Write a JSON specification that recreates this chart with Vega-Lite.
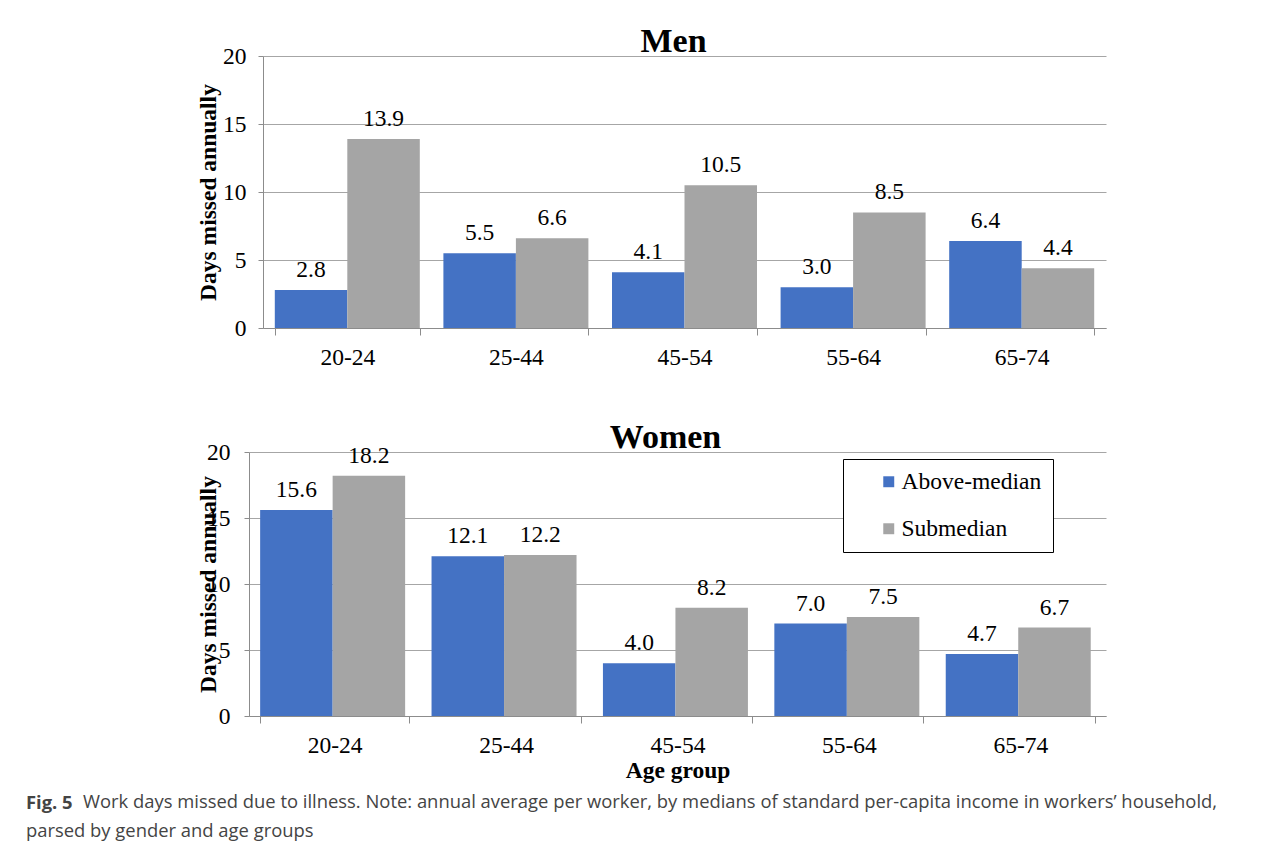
{
  "$schema": "https://vega.github.io/schema/vega-lite/v6.json",
  "background": "white",
  "padding": {"left": 26, "top": 25, "right": 10, "bottom": 10},
  "datasets": {
    "men": [
      {"age": "20-24", "income": "Above-median", "days": 2.8},
      {"age": "20-24", "income": "Submedian", "days": 13.9},
      {"age": "25-44", "income": "Above-median", "days": 5.5},
      {"age": "25-44", "income": "Submedian", "days": 6.6},
      {"age": "45-54", "income": "Above-median", "days": 4.1},
      {"age": "45-54", "income": "Submedian", "days": 10.5},
      {"age": "55-64", "income": "Above-median", "days": 3.0},
      {"age": "55-64", "income": "Submedian", "days": 8.5},
      {"age": "65-74", "income": "Above-median", "days": 6.4},
      {"age": "65-74", "income": "Submedian", "days": 4.4}
    ],
    "women": [
      {"age": "20-24", "income": "Above-median", "days": 15.6},
      {"age": "20-24", "income": "Submedian", "days": 18.2},
      {"age": "25-44", "income": "Above-median", "days": 12.1},
      {"age": "25-44", "income": "Submedian", "days": 12.2},
      {"age": "45-54", "income": "Above-median", "days": 4.0},
      {"age": "45-54", "income": "Submedian", "days": 8.2},
      {"age": "55-64", "income": "Above-median", "days": 7.0},
      {"age": "55-64", "income": "Submedian", "days": 7.5},
      {"age": "65-74", "income": "Above-median", "days": 4.7},
      {"age": "65-74", "income": "Submedian", "days": 6.7}
    ]
  },
  "title": {"text": "parsed by gender and age groups", "orient": "bottom", "anchor": "start", "font": "Open Sans", "fontSize": 18.4, "fontWeight": "normal", "color": "#444444", "offset": 9},
  "vconcat": [
    {
      "title": {"text": "Fig. 5", "orient": "bottom", "anchor": "start", "font": "Open Sans", "fontSize": 18.4, "fontWeight": "bold", "color": "#444444", "offset": -17, "dx": -57},
      "vconcat": [
        {
          "title": {"text": "Work days missed due to illness. Note: annual average per worker, by medians of standard per-capita income in workers’ household,", "orient": "bottom", "anchor": "start", "font": "Open Sans", "fontSize": 18.4, "fontWeight": "normal", "color": "#444444", "offset": 11, "dx": -113},
          "spacing": 52,
          "resolve": {"scale": {"color": "independent"}, "legend": {"color": "independent"}},
          "vconcat": [
            {
              "data": {"name": "men"},
              "width": 857,
              "height": 272,
              "title": {"text": "Men", "font": "Liberation Serif", "fontSize": 34, "fontWeight": "bold", "color": "black", "frame": "group", "baseline": "alphabetic", "offset": -42, "dx": -4},
              "encoding": {
                "x": {"field": "age", "type": "nominal", "sort": null, "title": null,
                  "scale": {"paddingInner": 0.14, "paddingOuter": 0.07, "range": [14, 857]},
                  "axis": {"labelAngle": 0, "tickBand": "extent", "tickSize": 7, "labelPadding": 10, "domain": true, "ticks": true}},
                "y": {"field": "days", "type": "quantitative", "title": "Days missed annually",
                  "scale": {"domain": [0, 20], "nice": false},
                  "axis": {"values": [0, 5, 10, 15, 20], "grid": true, "offset": -14, "tickSize": 5, "labelPadding": 12, "titleAngle": -90, "titleX": -55, "titleY": 136, "titleBaseline": "middle", "titleAlign": "center", "titleFontWeight": "bold"}},
                "xOffset": {"field": "income", "type": "nominal", "sort": ["Above-median", "Submedian"], "scale": {"paddingInner": 0}}
              },
              "layer": [
                {"mark": {"type": "bar"},
                 "encoding": {"color": {"field": "income", "type": "nominal", "scale": {"domain": ["Above-median", "Submedian"], "range": ["#4472C4", "#A5A5A5"]}, "legend": null}}},
                {"mark": {"type": "text", "font": "Liberation Serif", "fontSize": 23.5, "color": "black", "baseline": "alphabetic", "dy": -13},
                 "encoding": {"text": {"field": "days", "type": "quantitative", "format": ".1f"}}}
              ]
            },
            {
              "data": {"name": "women"},
              "width": 857,
              "height": 264,
              "title": {"text": "Women", "font": "Liberation Serif", "fontSize": 34, "fontWeight": "bold", "color": "black", "frame": "group", "baseline": "alphabetic", "offset": -42, "dx": -12},
              "encoding": {
                "x": {"field": "age", "type": "nominal", "sort": null, "title": "Age group",
                  "scale": {"paddingInner": 0.13, "paddingOuter": 0.065},
                  "axis": {"labelAngle": 0, "tickBand": "extent", "tickSize": 7, "labelPadding": 10, "titlePadding": 2, "titleFontWeight": "bold"}},
                "y": {"field": "days", "type": "quantitative", "title": "Days missed annually",
                  "scale": {"domain": [0, 20], "nice": false},
                  "axis": {"values": [0, 5, 10, 15, 20], "grid": true, "tickSize": 5, "labelPadding": 14, "titleAngle": -90, "titleX": -41, "titleY": 132, "titleBaseline": "middle", "titleAlign": "center", "titleFontWeight": "bold"}},
                "xOffset": {"field": "income", "type": "nominal", "sort": ["Above-median", "Submedian"], "scale": {"paddingInner": 0}}
              },
              "layer": [
                {"mark": {"type": "bar"},
                 "encoding": {"color": {"field": "income", "type": "nominal", "title": null,
                   "scale": {"domain": ["Above-median", "Submedian"], "range": ["#4472C4", "#A5A5A5"]},
                   "legend": {"orient": "none", "legendX": 594, "legendY": 7, "strokeColor": "black", "fillColor": "white", "padding": 11, "symbolOffset": 23, "symbolType": "square", "symbolSize": 120, "symbolStrokeWidth": 0, "labelFont": "Liberation Serif", "labelFontSize": 23.5, "labelColor": "black", "rowPadding": 22, "labelOffset": 1}}}},
                {"mark": {"type": "text", "font": "Liberation Serif", "fontSize": 23.5, "color": "black", "baseline": "alphabetic", "dy": -13},
                 "encoding": {"text": {"field": "days", "type": "quantitative", "format": ".1f"}}}
              ]
            }
          ]
        }
      ]
    }
  ],
  "config": {
    "view": {"stroke": null},
    "axis": {"labelFont": "Liberation Serif", "labelFontSize": 23.5, "labelColor": "black", "titleFont": "Liberation Serif", "titleFontSize": 23.5, "titleColor": "black", "domainColor": "#8c8c8c", "tickColor": "#8c8c8c", "gridColor": "#a6a6a6", "domainWidth": 1, "gridWidth": 1}
  }
}
